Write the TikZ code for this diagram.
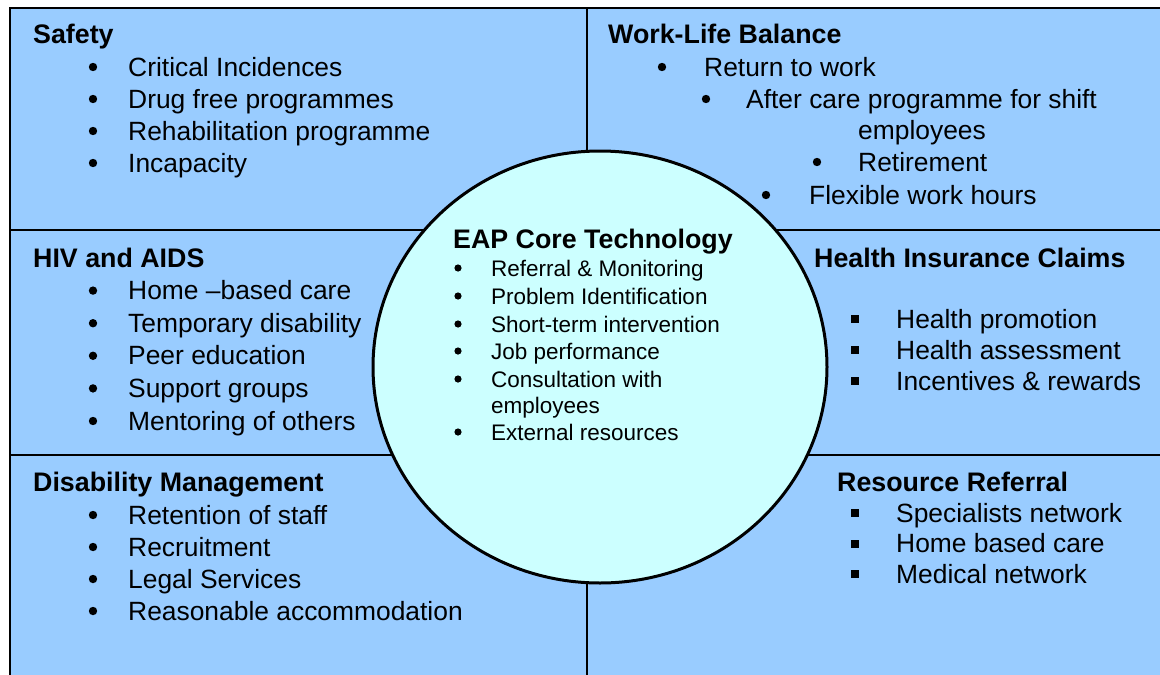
\documentclass[tikz,border=0pt]{standalone}
\usepackage{fontspec}
\setmainfont{Liberation Sans}
\usepackage{tikz}
\usetikzlibrary{positioning}
\definecolor{panelBlue}{RGB}{153, 204, 255}
\definecolor{coreCyan}{RGB}{204, 255, 255}

\tikzset{
  item/.style={anchor=base west, inner sep=0pt, font=\fontsize{26.4}{31}\selectfont},
  head/.style={item, font=\fontsize{26.8}{31}\selectfont\bfseries},
  coreitem/.style={anchor=base west, inner sep=0pt, font=\fontsize{22.5}{27}\selectfont},
}

\begin{document}
\begin{tikzpicture}[x=1pt, y=-1pt]
  \clip (0,0) rectangle (1160,675);
  \fill[white] (0,0) rectangle (1160,675);
  % panels
  \fill[panelBlue] (10,8) rectangle (1170,685);
  \draw[line width=1.5pt] (10,685) -- (10,8) -- (1170,8);
  \draw[line width=1.5pt] (587,8) -- (587,685);
  \draw[line width=1.5pt] (10,230) -- (1170,230);
  \draw[line width=1.5pt] (10,455) -- (1170,455);
  % core circle
  \draw[fill=coreCyan, line width=3pt] (600,367) ellipse (227 and 216);

  % Safety
  \node[head] (safety) at (33,43) {Safety};
  \foreach \t [count=\i] in {Critical Incidences, Drug free programmes, Rehabilitation programme, Incapacity} {
    \node[item] (saf\i) at (128,44+32*\i) {\t};
    \fill (93,35+32*\i) circle (4.2);
  }

  % HIV and AIDS
  \node[head] (hiv) at (33,267) {HIV and AIDS};
  \foreach \t [count=\i] in {Home –based care, Temporary disability, Peer education, Support groups, Mentoring of others} {
    \node[item] (hiv\i) at (128,267+32.6*\i) {\t};
    \fill (93,258+32.6*\i) circle (4.2);
  }

  % Disability Management
  \node[head] (dis) at (33,491) {Disability Management};
  \foreach \t [count=\i] in {Retention of staff, Recruitment, Legal Services, Reasonable accommodation} {
    \node[item] (dis\i) at (128,492+32*\i) {\t};
    \fill (93,483+32*\i) circle (4.2);
  }

  % Work-Life Balance
  \node[head] (wlb) at (608,43) {Work-Life Balance};
  \node[item] (wlb1) at (704,76) {Return to work};
  \fill (662,67) circle (4.2);
  \node[item] (wlb2) at (746,108) {After care programme for shift};
  \fill (706,99) circle (4.2);
  \node[item] (wlb2b) at (858,139) {employees};
  \node[item] (wlb3) at (858,171) {Retirement};
  \fill (817,162) circle (4.2);
  \node[item] (wlb4) at (809,204) {Flexible work hours};
  \fill (766,195) circle (4.2);

  % Health Insurance Claims
  \node[head] (hic) at (814,267) {Health Insurance Claims};
  \foreach \t [count=\i] in {Health promotion, Health assessment, Incentives \& rewards} {
    \node[item] (hic\i) at (896,297+31*\i) {\t};
    \fill (851,284+31*\i) rectangle ++(8,8);
  }

  % Resource Referral
  \node[head] (rr) at (837,491) {Resource Referral};
  \foreach \t [count=\i] in {Specialists network, Home based care, Medical network} {
    \node[item] (rr\i) at (896,491.5+30.5*\i) {\t};
    \fill (851,478.5+30.5*\i) rectangle ++(8,8);
  }

  % EAP core
  \node[head] (eap) at (453,248) {EAP Core Technology};
  \foreach \t/\y in {Referral \& Monitoring/276, Problem Identification/304, Short-term intervention/332, Job performance/359, Consultation with/387, External resources/440} {
    \node[coreitem] at (491,\y) {\t};
    \fill (458,\y-8) circle (3.6);
  }
  \node[coreitem] (eapemp) at (491,413) {employees};
\end{tikzpicture}
\end{document}
